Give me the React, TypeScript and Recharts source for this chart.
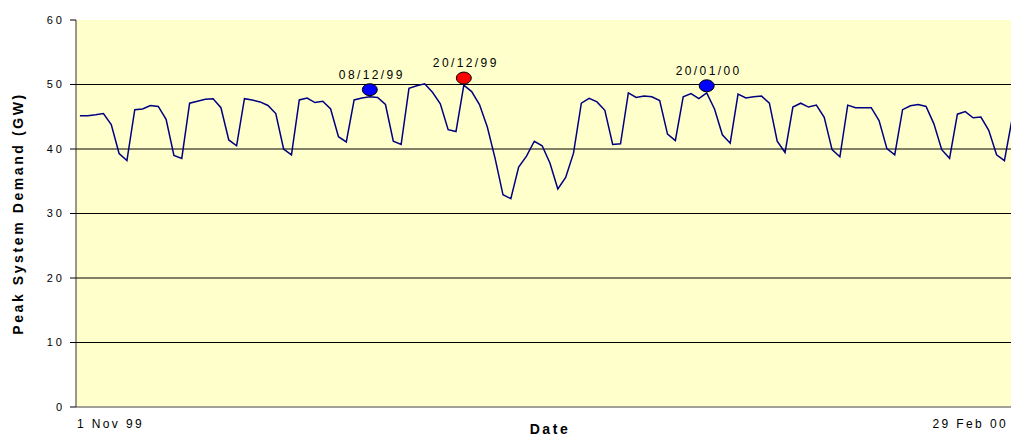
import {
  ComposedChart,
  LabelList,
  Line,
  ReferenceArea,
  ReferenceLine,
  XAxis,
  YAxis,
} from 'recharts';

const FONT = '"Liberation Sans", Arial, Helvetica, sans-serif';

// daily peak demand (GW), 1 Nov 99 .. 29 Feb 00
const DEMAND = [
  45.15, 45.15, 45.3, 45.5, 43.8, 39.3, 38.2,
  46.1, 46.2, 46.75, 46.6, 44.6, 39.0, 38.55,
  47.1, 47.4, 47.7, 47.8, 46.4, 41.4, 40.5,
  47.8, 47.6, 47.3, 46.75, 45.5, 40.0, 39.1,
  47.6, 47.9, 47.2, 47.4, 46.2, 41.9, 41.1,
  47.6, 47.9, 48.1, 48.0, 46.9, 41.2, 40.7,
  49.4, 49.8, 50.1, 48.8, 47.0, 43.0, 42.7,
  49.9, 48.9, 46.9, 43.4, 38.5, 32.9, 32.3,
  37.2, 38.9, 41.2, 40.5, 37.8, 33.8, 35.6,
  39.35, 47.1, 47.85, 47.3, 46.0, 40.7, 40.8,
  48.7, 48.0, 48.2, 48.1, 47.5, 42.3, 41.3,
  48.1, 48.6, 47.8, 48.7, 46.2, 42.2, 40.9,
  48.5, 47.9, 48.1, 48.2, 47.1, 41.2, 39.45,
  46.5, 47.1, 46.5, 46.8, 44.9, 39.9, 38.8,
  46.8, 46.4, 46.4, 46.4, 44.4, 40.05, 39.1,
  46.1, 46.7, 46.9, 46.6, 43.9, 39.9, 38.55,
  45.4, 45.8, 44.85, 44.95, 42.9, 39.1, 38.2,
  44.8, 45.2,
];

const PEAK_DAYS = [37, 49, 80];
const PEAK_VALUES = [49.2, 51.0, 49.8];
const PEAK_LABELS = ['08/12/99', '20/12/99', '20/01/00'];
const PEAK_COLORS = ['#0000FF', '#FF0000', '#0000FF'];

const Y_TICKS = [0, 10, 20, 30, 40, 50, 60];
const GRID_VALUES = [10, 20, 30, 40, 50];
const X_TICK_DAYS = [0, 120];
const X_TICK_LABELS = ['1 Nov 99', '29 Feb 00'];

const data = DEMAND.map((demand, day) => {
  const k = PEAK_DAYS.indexOf(day);
  return {
    day,
    demand,
    peak: k >= 0 ? PEAK_VALUES[k] : null,
    peakLabel: k >= 0 ? PEAK_LABELS[k] : null,
    peakColor: k >= 0 ? PEAK_COLORS[k] : null,
  };
});

function PeakDot(props: any) {
  const { cx, cy, payload, index } = props;
  if (payload?.peak == null || cx == null || cy == null) return <g key={`pd-${index}`} />;
  return (
    <ellipse
      key={`pd-${index}`}
      cx={cx}
      cy={cy}
      rx={7.5}
      ry={6}
      fill={payload.peakColor}
      stroke="#000"
      strokeWidth={1}
    />
  );
}

function PeakLabel(props: any) {
  const { x, y, value } = props;
  if (value == null || x == null || y == null) return null;
  return (
    <text
      x={x + 2}
      y={y - 11}
      textAnchor="middle"
      fontSize={12}
      letterSpacing={2.4}
      fill="#000"
      fontFamily={FONT}
    >
      {value}
    </text>
  );
}

function DateTick(props: any) {
  const { x, y, payload } = props;
  const k = X_TICK_DAYS.indexOf(payload.value);
  if (k < 0) return null;
  const first = k === 0;
  return (
    <text
      x={first ? x - 3 : x - 12}
      y={y}
      dy="0.71em"
      textAnchor={first ? 'start' : 'end'}
      fontSize={12}
      letterSpacing={2.4}
      fill="#000"
      fontFamily={FONT}
    >
      {X_TICK_LABELS[k]}
    </text>
  );
}

function DemandTick(props: any) {
  const { x, y, payload } = props;
  return (
    <text
      x={x}
      y={y}
      dy="0.355em"
      textAnchor="end"
      fontSize={11}
      letterSpacing={3}
      fill="#000"
      fontFamily={FONT}
    >
      {payload.value}
    </text>
  );
}

const TITLE_STYLE = {
  fontFamily: FONT,
  fontWeight: 'bold',
  fontSize: 14,
  letterSpacing: 2.6,
  fill: '#000',
  textAnchor: 'middle' as const,
};

export default function App() {
  return (
    <div
      style={{
        position: 'fixed',
        left: 0,
        top: 0,
        width: 1011,
        height: 437,
        overflow: 'hidden',
        background: '#fff',
      }}
    >
      <ComposedChart
        width={1040}
        height={437}
        data={data}
        margin={{ top: 20, right: 16, bottom: 0, left: 0 }}
      >
        <ReferenceArea y1={0} y2={60} fill="#FFFFCC" fillOpacity={1} stroke="none" />
        {GRID_VALUES.map((v) => (
          <ReferenceLine key={v} y={v} stroke="#000" strokeWidth={1} />
        ))}
        <XAxis
          dataKey="day"
          type="number"
          domain={[-0.5, 120.5]}
          ticks={X_TICK_DAYS}
          interval={0}
          tickLine={false}
          tickSize={6}
          tickMargin={6}
          axisLine={{ stroke: '#808080', strokeWidth: 1.5 }}
          tick={<DateTick />}
          height={30}
          label={{ value: 'Date', position: 'insideBottom', offset: 3, style: TITLE_STYLE }}
        />
        <YAxis
          domain={[0, 60]}
          ticks={Y_TICKS}
          interval={0}
          width={76}
          tickSize={6}
          tickMargin={5}
          tickLine={{ stroke: '#000' }}
          axisLine={{ stroke: '#333' }}
          tick={<DemandTick />}
          label={{
            value: 'Peak System Demand (GW)',
            angle: -90,
            position: 'insideLeft',
            offset: 18,
            style: TITLE_STYLE,
          }}
        />
        <Line
          dataKey="demand"
          type="linear"
          stroke="#000080"
          strokeWidth={1.5}
          dot={false}
          activeDot={false}
          isAnimationActive={false}
        />
        <Line
          dataKey="peak"
          type="linear"
          stroke="none"
          dot={PeakDot}
          activeDot={false}
          connectNulls={false}
          isAnimationActive={false}
        >
          <LabelList dataKey="peakLabel" content={PeakLabel} />
        </Line>
      </ComposedChart>
    </div>
  );
}
